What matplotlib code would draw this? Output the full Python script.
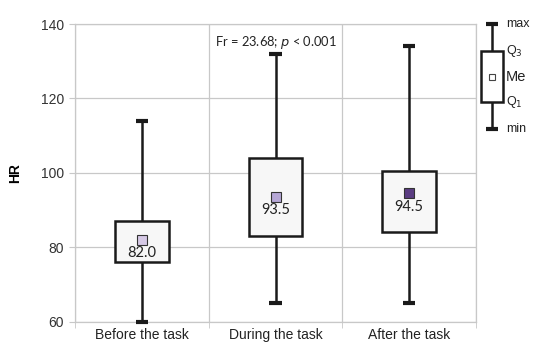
import matplotlib
matplotlib.use("Agg")
import matplotlib.pyplot as plt

categories = ["Before the task", "During the task", "After the task"]
mins = [60, 65, 65]
q1s = [76, 83, 84]
medians = [82.0, 93.5, 94.5]
q3s = [87, 104, 100.5]
maxs = [114, 132, 134]
median_colors = ["#d6c9e6", "#b6a7d6", "#5b3d82"]
stat_text = "Fr = 23.68; $\\it{p}$ < 0.001"

# schematic legend values
legend_labels = ["min", "Q$_1$", "Me", "Q$_3$", "max"]
legend_values = [111.7, 119.1, 125.8, 132.8, 140.0]

fig = plt.figure(figsize=(5.5, 3.61), dpi=100)
ax = fig.add_axes([75/550, 1-321.5/361, 401/550, (321.5-24)/361])

lw = 1.8
boxw = 0.4
capw = 0.09
for i in range(len(categories)):
    ax.plot([i, i], [mins[i], q1s[i]], color="#1a1a1a", lw=lw, zorder=3, solid_capstyle="butt")
    ax.plot([i, i], [q3s[i], maxs[i]], color="#1a1a1a", lw=lw, zorder=3, solid_capstyle="butt")
    ax.plot([i-capw/2, i+capw/2], [mins[i]]*2, color="#1a1a1a", lw=3, zorder=3, solid_capstyle="butt", clip_on=False)
    ax.plot([i-capw/2, i+capw/2], [maxs[i]]*2, color="#1a1a1a", lw=3, zorder=3, solid_capstyle="butt", clip_on=False)
    rect = plt.Rectangle((i-boxw/2, q1s[i]), boxw, q3s[i]-q1s[i], facecolor="#f7f7f7",
                         edgecolor="#1a1a1a", lw=lw, zorder=4)
    ax.add_patch(rect)
    ax.plot(i, medians[i], marker="s", ms=6.5, mfc=median_colors[i], mec="#333333", mew=0.8, zorder=5)
    ax.text(i, medians[i]-3.6, f"{medians[i]:.1f}", ha="center", va="center", fontsize=10.5,
            family="Lato", color="#222222", zorder=6)

ax.text(1, 135.0, stat_text, ha="center", va="center", fontsize=9.3, family="Lato", color="#222222")

ax.set_xlim(-0.5, 2.5)
ax.set_ylim(60, 140)
ax.set_yticks([60, 80, 100, 120, 140])
ax.set_xticks([0, 1, 2])
ax.set_xticklabels(categories, family="Liberation Sans", fontsize=10, color="#222222")
ax.set_xticks([-0.5, 0.5, 1.5, 2.5], minor=True)
ax.tick_params(axis="x", which="major", length=0, pad=5)
ax.tick_params(axis="x", which="minor", length=4, color="#c8c8c8")
ax.tick_params(axis="y", length=4, color="#c8c8c8", pad=4)
for lab in ax.get_yticklabels():
    lab.set_family("Liberation Sans")
    lab.set_fontsize(10)
    lab.set_color("#333333")
ax.grid(True, which="major", axis="y", color="#c8c8c8", lw=0.9)
ax.grid(True, which="minor", axis="x", color="#c8c8c8", lw=0.9)
for s in ax.spines.values():
    s.set_color("#c8c8c8")
    s.set_linewidth(0.9)
ax.set_ylabel("HR", family="Liberation Sans", fontsize=10, fontweight="bold", labelpad=13)
ax.set_axisbelow(True)

# schematic legend (outside plot)
lx = 2.62
lbw = 0.16
lmin, lq1, lme, lq3, lmax = legend_values
ax.plot([lx, lx], [lmin, lq1], color="#1a1a1a", lw=lw, clip_on=False, solid_capstyle="butt")
ax.plot([lx, lx], [lq3, lmax], color="#1a1a1a", lw=lw, clip_on=False, solid_capstyle="butt")
for v in (lmin, lmax):
    ax.plot([lx-capw/2, lx+capw/2], [v, v], color="#1a1a1a", lw=3, clip_on=False, solid_capstyle="butt")
ax.add_patch(plt.Rectangle((lx-lbw/2, lq1), lbw, lq3-lq1, facecolor="white", edgecolor="#1a1a1a",
                           lw=lw, clip_on=False))
ax.plot(lx, lme, marker="s", ms=5, mfc="white", mec="#444444", mew=0.8, clip_on=False)
for lab, v in zip(legend_labels, legend_values):
    ax.text(lx+0.105, v, lab, ha="left", va="center", fontsize=9 if lab != "Me" else 10.5,
            family="Liberation Sans", color="#222222")

fig.savefig("out.png", dpi=100)
